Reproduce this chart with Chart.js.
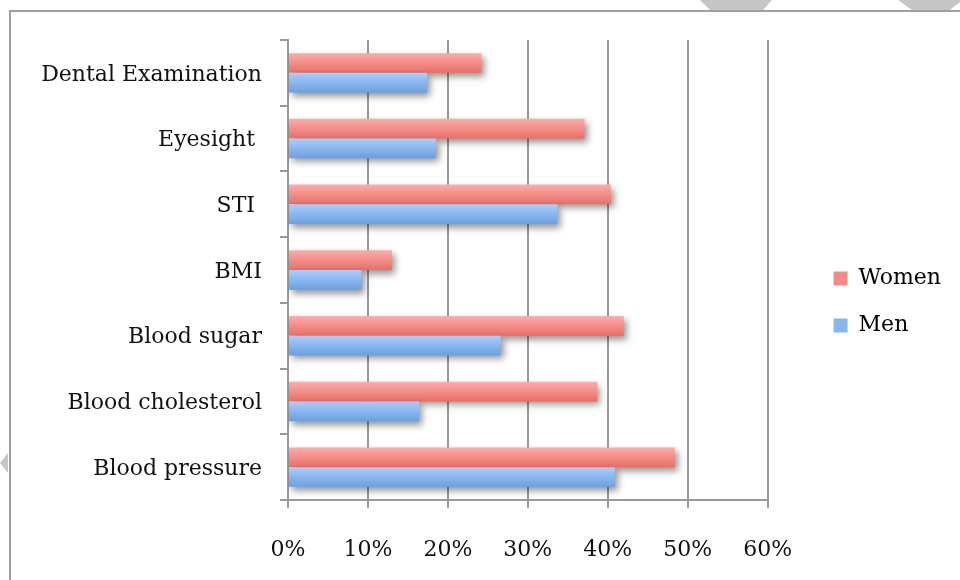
<!DOCTYPE html>
<html>
<head>
<meta charset="utf-8">
<script src="https://cdn.jsdelivr.net/npm/chart.js@4/dist/chart.umd.min.js"></script>
<style>
  html, body { margin: 0; padding: 0; background: #fff; }
  #wrap { width: 960px; height: 580px; position: relative; }
</style>
</head>
<body>
<div id="wrap"><canvas id="c" width="960" height="580"></canvas></div>
<script>
// Share of people who had each health check, by sex
const categories = ['Dental Examination', 'Eyesight ', 'STI ', 'BMI', 'Blood sugar', 'Blood cholesterol', 'Blood pressure'];
const women = [24.2, 37.1, 40.4, 13.0, 42.0, 38.7, 48.4];
const men   = [17.4, 18.5, 33.7, 9.2, 26.6, 16.4, 40.9];
const xTicks = [0, 10, 20, 30, 40, 50, 60];

const FONT = '"DejaVu Serif", serif';
const GRID = '#999999';

const shades = {
  Women: { top: '#ffaca8', bottom: '#e76f67', mid: '#f48c86' },
  Men:   { top: '#aacdff', bottom: '#6ba0df', mid: '#8ab6ef' }
};

// Bars: vertical gradient plus a soft drop shadow, drawn Women first so Men sit over its shadow
const shadedBars = {
  id: 'shadedBars',
  beforeDatasetsDraw(chart) {
    const ctx = chart.ctx;
    const area = chart.chartArea;
    ctx.save();
    ctx.beginPath();
    ctx.rect(area.left, area.top - 2, area.right - area.left + 20, area.bottom - area.top + 10);
    ctx.clip();
    chart.data.datasets.forEach((ds, i) => {
      const meta = chart.getDatasetMeta(i);
      const s = shades[ds.label];
      meta.data.forEach(el => {
        const top = el.y - el.height / 2;
        const g = ctx.createLinearGradient(0, top, 0, top + el.height);
        g.addColorStop(0, s.top);
        g.addColorStop(1, s.bottom);
        const saved = el.options.backgroundColor;
        el.options.backgroundColor = g;
        ctx.save();
        ctx.shadowColor = 'rgba(0,0,0,0.42)';
        ctx.shadowBlur = 7;
        ctx.shadowOffsetX = 3;
        ctx.shadowOffsetY = 4;
        el.draw(ctx);
        ctx.restore();
        el.options.backgroundColor = saved;
      });
    });
    ctx.restore();
  },
  beforeDatasetDraw() { return false; }
};

// Legend sits a little further right and higher than the default right-hand slot
const legendPlacement = {
  id: 'legendPlacement',
  afterLayout(chart) {
    const lg = chart.legend;
    if (!lg) return;
    lg.left += 41; lg.right += 41;
    lg.top -= 8; lg.bottom -= 8;
  }
};

// Outer frame and the grey marks at the page edges
const frame = {
  id: 'frame',
  beforeDraw(chart) {
    const ctx = chart.ctx;
    ctx.save();
    ctx.fillStyle = '#c6c6c6';
    const polys = [
      [[700, 0], [772, 0], [763, 10], [710, 10]],
      [[898, 0], [960, 0], [960, 2], [950, 10], [912, 10]],
      [[0, 463], [8, 453], [8, 473]]
    ];
    polys.forEach(p => {
      ctx.beginPath();
      ctx.moveTo(p[0][0], p[0][1]);
      p.slice(1).forEach(q => ctx.lineTo(q[0], q[1]));
      ctx.closePath();
      ctx.fill();
    });
    ctx.strokeStyle = '#a0a0a0';
    ctx.lineWidth = 2;
    ctx.beginPath();
    ctx.moveTo(960, 11);
    ctx.lineTo(10, 11);
    ctx.lineTo(10, 580);
    ctx.stroke();
    ctx.restore();
  }
};

new Chart(document.getElementById('c'), {
  type: 'bar',
  data: {
    labels: categories,
    datasets: [
      { label: 'Women', data: women, backgroundColor: shades.Women.mid, borderWidth: 0 },
      { label: 'Men', data: men, backgroundColor: shades.Men.mid, borderWidth: 0 }
    ]
  },
  options: {
    indexAxis: 'y',
    responsive: false,
    animation: false,
    events: [],
    categoryPercentage: 0.6,
    barPercentage: 1.0,
    layout: { padding: { top: 40, right: 50, bottom: 0, left: 0 } },
    scales: {
      x: {
        min: 0, max: 60,
        afterBuildTicks(scale) { scale.ticks = xTicks.map(v => ({ value: v })); },
        afterFit(scale) { scale.height = 80; },
        ticks: {
          callback: v => v + '%',
          color: '#111',
          font: { family: FONT, size: 22 },
          padding: 29,
          maxRotation: 0
        },
        grid: { color: GRID, lineWidth: 2, tickLength: 8, drawTicks: true },
        border: { color: GRID, width: 2 }
      },
      y: {
        afterFit(scale) { scale.width = 288; },
        ticks: {
          color: '#111',
          font: { family: FONT, size: 22 },
          padding: 18,
          labelOffset: 2
        },
        grid: { drawOnChartArea: false, color: GRID, lineWidth: 2, tickLength: 8, offset: true },
        border: { color: GRID, width: 2 }
      }
    },
    plugins: {
      tooltip: { enabled: false },
      legend: {
        position: 'right',
        labels: {
          color: '#111',
          font: { family: FONT, size: 22 },
          boxWidth: 14,
          boxHeight: 14,
          padding: 25,
          generateLabels(chart) {
            return chart.data.datasets.map((ds, i) => ({
              text: ds.label,
              fillStyle: shades[ds.label].mid,
              strokeStyle: shades[ds.label].mid,
              lineWidth: 0,
              datasetIndex: i
            }));
          }
        }
      }
    }
  },
  plugins: [frame, legendPlacement, shadedBars]
});
</script>
</body>
</html>
